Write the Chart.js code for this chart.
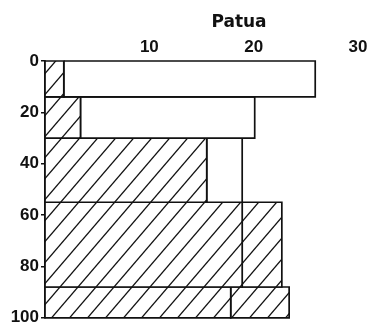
<!DOCTYPE html>
<html>
<head>
<meta charset="utf-8">
<script src="https://cdn.jsdelivr.net/npm/chart.js@4"></script>
<style>
  html, body { margin: 0; padding: 0; background: #fff; }
</style>
</head>
<body>
<canvas id="chart" width="378" height="330"></canvas>
<script>
// depth of each layer (top / bottom)
const depthTop = [0, 14, 30, 55, 88];
const depthBottom = [14, 30, 55, 88, 100];
// hatched inner part and full length of each bar
const innerValues = [1.8, 3.4, 15.5, 18.9, 17.8];
const totalValues = [25.9, 20.1, 18.9, 22.7, 23.4];
// outer part hatched too?
const outerHatched = [false, false, false, true, true];
const xTickLabels = [10, 20, 30];
const yTickLabels = [0, 20, 40, 60, 80, 100];

function makeHatch() {
  const w = 18, h = 21;
  const c = document.createElement("canvas");
  c.width = w;
  c.height = h;
  const g = c.getContext("2d");
  g.fillStyle = "#fff";
  g.fillRect(0, 0, w, h);
  g.strokeStyle = "#111";
  g.lineWidth = 1.3;
  for (let k = -1; k <= 1; k++) {
    g.beginPath();
    g.moveTo(-w, 2 * h + k * h);
    g.lineTo(2 * w, -h + k * h);
    g.stroke();
  }
  return g.createPattern(c, "repeat");
}
const hatch = makeHatch();

// closed rectangle through the data scales
function rect(x0, x1, d0, d1) {
  return [
    { x: x0, y: d0 }, { x: x1, y: d0 }, { x: x1, y: d1 },
    { x: x0, y: d1 }, { x: x0, y: d0 },
  ];
}

const datasets = [];
depthTop.forEach((top, i) => {
  datasets.push({
    data: rect(0, innerValues[i], top, depthBottom[i]),
    backgroundColor: hatch,
  });
  datasets.push({
    data: rect(innerValues[i], totalValues[i], top, depthBottom[i]),
    backgroundColor: outerHatched[i] ? hatch : "#fff",
  });
});
datasets.forEach((ds) => {
  ds.fill = "shape";
  ds.borderColor = "#111";
  ds.borderWidth = 1.7;
  ds.pointRadius = 0;
  ds.tension = 0;
  ds.clip = false;
});

const tickFont = { family: "Liberation Sans", size: 17, weight: "bold" };

// "Patua" heading above the tick labels
const heading = {
  id: "heading",
  afterDraw(chart) {
    const ctx = chart.ctx;
    ctx.save();
    ctx.font = "bold 17px 'DejaVu Sans'";
    ctx.fillStyle = "#111";
    ctx.textAlign = "center";
    ctx.textBaseline = "middle";
    ctx.fillText("Patua", 239, 23);
    ctx.restore();
  },
};

new Chart(document.getElementById("chart"), {
  type: "line",
  data: { datasets },
  options: {
    responsive: false,
    animation: false,
    layout: { padding: { top: 0, right: 20, bottom: 9, left: 0 } },
    plugins: { legend: { display: false }, tooltip: { enabled: false } },
    scales: {
      x: {
        type: "linear",
        position: "top",
        min: 0,
        max: 30,
        afterFit: (s) => { s.height = 61; },
        ticks: {
          stepSize: 10,
          color: "#111",
          font: tickFont,
          padding: 3,
          callback: (v) => (xTickLabels.includes(v) ? v : ""),
        },
        grid: { display: false, drawTicks: false },
        border: { display: false },
      },
      y: {
        type: "linear",
        reverse: true,
        min: 0,
        max: 100,
        afterFit: (s) => { s.width = 45; },
        ticks: {
          stepSize: 20,
          color: "#111",
          font: tickFont,
          padding: 2,
          callback: (v) => (yTickLabels.includes(v) ? v : ""),
        },
        grid: { drawOnChartArea: false, tickLength: 4, color: "#111", lineWidth: 1.5 },
        border: { display: true, color: "#111", width: 1.7 },
      },
    },
  },
  plugins: [heading],
});
</script>
</body>
</html>
